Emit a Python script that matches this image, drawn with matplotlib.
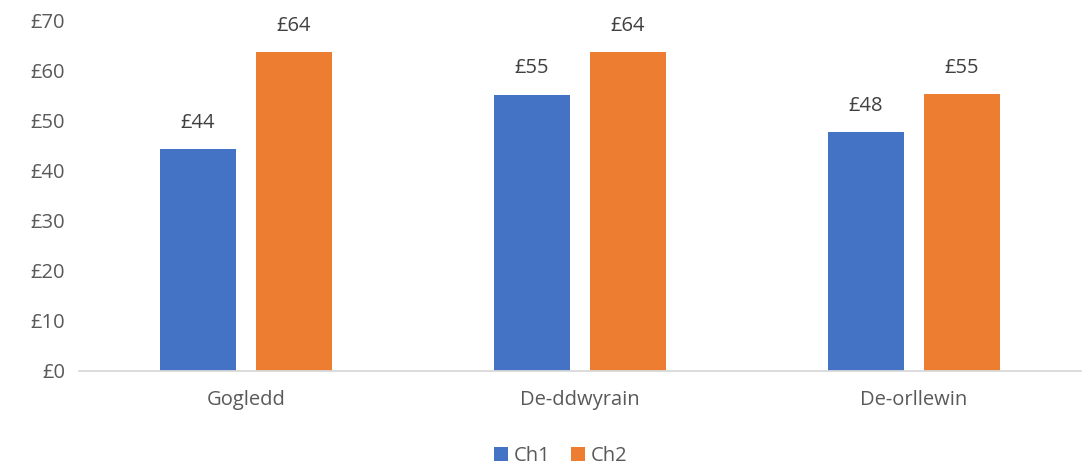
import matplotlib
matplotlib.use("Agg")
import matplotlib.pyplot as plt
import numpy as np

plt.rcParams.update({
    "font.family": ["Open Sans", "DejaVu Sans"],
    "font.size": 14.5,
})

# Data
regions = ["Gogledd", "De-ddwyrain", "De-orllewin"]
ch1 = [44.2, 55.1, 47.6]
ch2 = [63.6, 63.6, 55.2]
series_names = ["Ch1", "Ch2"]

BLUE = "#4472C4"
ORANGE = "#ED7D31"
TEXT = "#595959"
AXIS = "#D9D9D9"

fig = plt.figure(figsize=(10.89, 4.66), dpi=100)
ax = fig.add_axes([0.0725, 0.2039, 0.920, 0.7531])

x = np.arange(len(regions))
w = 0.228
off = 0.144
b1 = ax.bar(x - off, ch1, w, color=BLUE, label=series_names[0])
b2 = ax.bar(x + off, ch2, w, color=ORANGE, label=series_names[1])

for bars, vals in [(b1, ch1), (b2, ch2)]:
    for rect, v in zip(bars, vals):
        ax.annotate(f"£{v:.0f}", (rect.get_x() + rect.get_width() / 2, v),
                    xytext=(0, 19), textcoords="offset points",
                    ha="center", va="center", color="#404040", fontsize=14.5)

ax.set_xlim(-0.5, 2.5)
ax.set_ylim(0, 70)
ax.set_yticks(range(0, 71, 10))
ax.set_yticklabels([f"£{v}" for v in range(0, 71, 10)])
ax.set_xticks(x)
ax.set_xticklabels(regions)

for s in ["top", "right", "left"]:
    ax.spines[s].set_visible(False)
ax.spines["bottom"].set_color(AXIS)
ax.spines["bottom"].set_linewidth(1.3)
ax.tick_params(axis="both", length=0, colors=TEXT, labelsize=14.5)
ax.tick_params(axis="x", pad=14)
ax.tick_params(axis="y", pad=10)

fig.legend(loc="center", bbox_to_anchor=(0.515, 0.022), ncol=2, frameon=False,
           handlelength=0.7, handleheight=0.7, handletextpad=0.3,
           columnspacing=1.0, labelcolor=TEXT, fontsize=14.5)

fig.savefig("out.png", dpi=100)
